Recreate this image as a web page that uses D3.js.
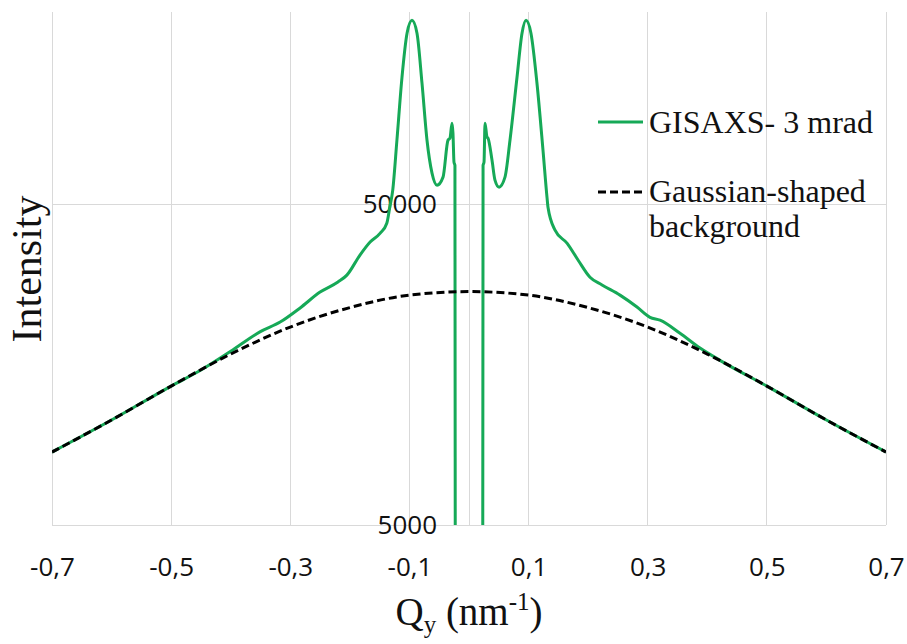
<!DOCTYPE html>
<html>
<head>
<meta charset="utf-8">
<script src="https://cdn.jsdelivr.net/npm/d3@7"></script>
<style>
  html, body { margin: 0; padding: 0; background: #fff; }
  svg { display: block; }
</style>
</head>
<body>
<svg id="chart" width="907" height="644"></svg>
<script>
// ---- data ----
const qGisaxs = [
  -0.70, -0.60, -0.50, -0.45, -0.40, -0.351, -0.317, -0.284, -0.250, -0.220, -0.205,
  -0.183, -0.166, -0.149, -0.138, -0.133, -0.128, -0.121, -0.1125, -0.104, -0.0957,
  -0.0873, -0.0789, -0.0705, -0.0621, -0.0537, -0.0436, -0.0353, -0.0319, -0.0285,
  -0.0269, -0.0252, -0.0236, -0.0228, 0.0, 0.0228, 0.0236, 0.0252, 0.0269, 0.0302,
  0.0319, 0.0386, 0.0436, 0.0504, 0.0604, 0.0688, 0.0806, 0.0890, 0.0957, 0.1040,
  0.1141, 0.1242, 0.1309, 0.1326, 0.1444, 0.1645, 0.1830, 0.2031, 0.2233, 0.2535,
  0.2820, 0.3038, 0.3206, 0.3542, 0.3878, 0.4213, 0.50, 0.60, 0.70
];
const iGisaxs = [
  8440, 10620, 13550, 15200, 17400, 20000, 21450, 23700, 26600, 28600, 30050,
  34700, 38100, 40600, 43600, 48900, 55300, 79100, 124300, 170500, 187100,
  170500, 119100, 79100, 62500, 57300, 60700, 79100, 80300, 89400,
  83200, 67600, 66000, 1000, 500, 1000, 66000, 67600, 89400, 80900,
  80300, 68600, 59400, 56500, 60700, 79100, 124300, 170500, 187100, 170500,
  119100, 73700, 52600, 48900, 41500, 37800, 33500, 29600, 28000, 26030,
  23900, 22200, 21750, 19800, 17800, 16300, 13550, 10620, 8440
];
const qBackground = [-0.7, -0.6, -0.5, -0.4, -0.3, -0.2, -0.1, 0.0, 0.1, 0.2, 0.3, 0.4, 0.5, 0.6, 0.7];
const iBackground = [8440, 10620, 13550, 17050, 20700, 23800, 26030, 26700, 26030, 23800, 20700, 17050, 13550, 10620, 8440];

const xTicks = [-0.7, -0.5, -0.3, -0.1, 0.1, 0.3, 0.5, 0.7];
const xTickLabels = ["-0,7", "-0,5", "-0,3", "-0,1", "0,1", "0,3", "0,5", "0,7"];
const yTicks = [5000, 50000];
const yTickLabels = ["5000", "50000"];
const seriesNames = ["GISAXS- 3 mrad", "Gaussian-shaped", "background"];

// ---- scales ----
const svg = d3.select("#chart");
const x = d3.scaleLinear().domain([-0.7, 0.7]).range([52, 886]);
const y = d3.scaleLog().domain([5000, 200000]).range([525, 11]);
const gridColor = "#d9d9d9";
const green = "#16a957";

// gridlines (vertical)
svg.append("g").selectAll("line").data(xTicks.concat([0])).join("line")
  .attr("x1", d => x(d)).attr("x2", d => x(d))
  .attr("y1", 12).attr("y2", 525)
  .attr("stroke", gridColor).attr("stroke-width", 1)
  .attr("shape-rendering", "crispEdges");
// gridlines (horizontal)
svg.append("g").selectAll("line").data(yTicks).join("line")
  .attr("x1", 52).attr("x2", 886)
  .attr("y1", d => y(d)).attr("y2", d => y(d))
  .attr("stroke", gridColor).attr("stroke-width", 1)
  .attr("shape-rendering", "crispEdges");

// x tick labels
const xAxis = d3.axisBottom(x).tickValues(xTicks)
  .tickFormat((d, i) => xTickLabels[i]).tickSize(0).tickPadding(0);
const gx = svg.append("g").attr("transform", "translate(0,525)").call(xAxis);
gx.select(".domain").remove();
gx.selectAll("text").attr("y", 51).attr("dy", null)
  .attr("font-family", "'Open Sans', sans-serif").attr("font-size", 26).attr("fill", "#111");

// y tick labels (axis crosses at x = 0)
const yAxis = d3.axisLeft(y).tickValues(yTicks)
  .tickFormat((d, i) => yTickLabels[i]).tickSize(0).tickPadding(32);
const gy = svg.append("g").attr("transform", `translate(${x(0)},0)`).call(yAxis);
gy.select(".domain").remove();
gy.selectAll("text")
  .attr("font-family", "'Open Sans', sans-serif").attr("font-size", 26).attr("fill", "#111");

// clip
svg.append("clipPath").attr("id", "plot").append("rect")
  .attr("x", 52).attr("y", 0).attr("width", 834).attr("height", 525);

// lines
const bgData = qBackground.map((q, i) => [q, iBackground[i]]);
const gData = qGisaxs.map((q, i) => [q, iGisaxs[i]]);
const line = d3.line().x(d => x(d[0])).y(d => y(d[1])).curve(d3.curveMonotoneX);

svg.append("path").datum(gData).attr("d", line)
  .attr("clip-path", "url(#plot)")
  .attr("fill", "none").attr("stroke", green).attr("stroke-width", 3)
  .attr("stroke-linejoin", "round");
svg.append("path").datum(bgData).attr("d", line)
  .attr("clip-path", "url(#plot)")
  .attr("fill", "none").attr("stroke", "#000").attr("stroke-width", 3)
  .attr("stroke-dasharray", "8,4");

// legend
const serif = "'Liberation Serif', 'Times New Roman', serif";
svg.append("line").attr("x1", 598).attr("x2", 643).attr("y1", 122).attr("y2", 122)
  .attr("stroke", green).attr("stroke-width", 3);
svg.append("text").attr("x", 649).attr("y", 133).text(seriesNames[0])
  .attr("font-family", serif).attr("font-size", 32).attr("fill", "#111");
svg.append("line").attr("x1", 598).attr("x2", 643).attr("y1", 192).attr("y2", 192)
  .attr("stroke", "#000").attr("stroke-width", 3).attr("stroke-dasharray", "8,4");
svg.append("text").attr("x", 649).attr("y", 202).text(seriesNames[1])
  .attr("font-family", serif).attr("font-size", 32).attr("fill", "#111");
svg.append("text").attr("x", 649).attr("y", 237).text(seriesNames[2])
  .attr("font-family", serif).attr("font-size", 32).attr("fill", "#111");

// axis titles
svg.append("text")
  .attr("transform", "translate(41,269) rotate(-90)")
  .attr("text-anchor", "middle")
  .attr("font-family", serif).attr("font-size", 42).attr("fill", "#111")
  .text("Intensity");

const xt = svg.append("text").attr("x", 469).attr("y", 625)
  .attr("text-anchor", "middle")
  .attr("font-family", serif).attr("font-size", 39).attr("fill", "#111");
xt.append("tspan").text("Q");
xt.append("tspan").attr("font-size", 25).attr("dy", 8).text("y");
xt.append("tspan").attr("dy", -8).text(" (nm");
xt.append("tspan").attr("font-size", 25).attr("dy", -15).text("-1");
xt.append("tspan").attr("dy", 15).text(")");
</script>
</body>
</html>
